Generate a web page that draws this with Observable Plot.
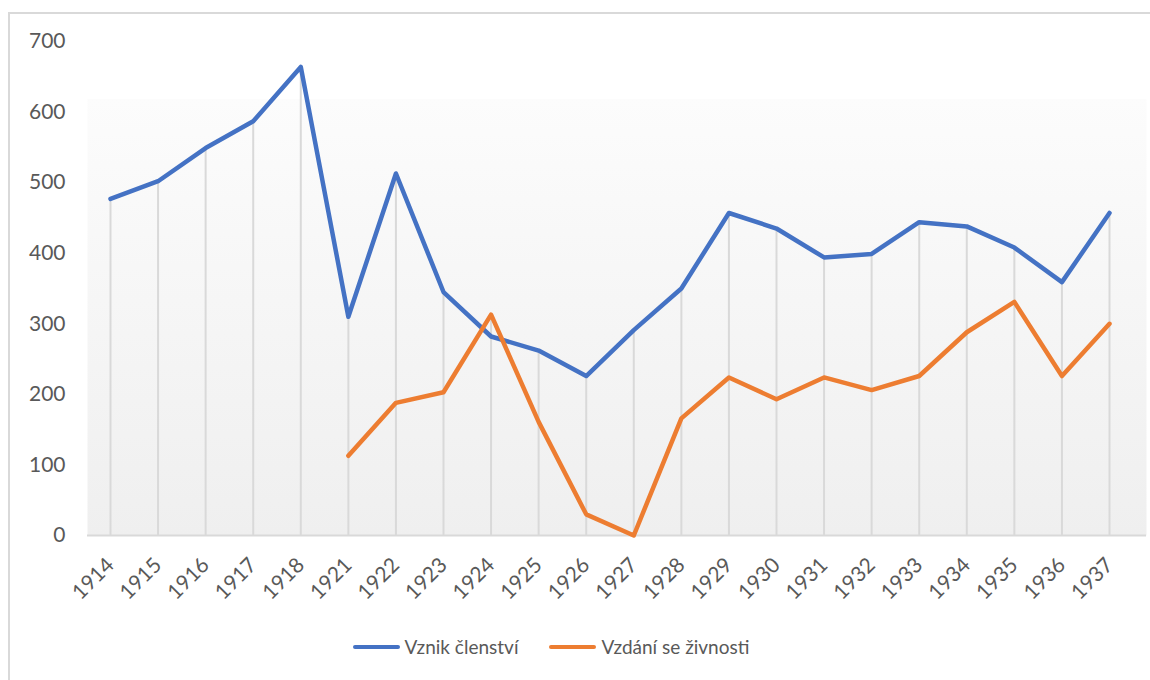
<!DOCTYPE html>
<html>
<head>
<meta charset="utf-8">
<script src="https://cdn.jsdelivr.net/npm/d3@7"></script>
<script src="https://cdn.jsdelivr.net/npm/@observablehq/plot@0.6"></script>
<style>
  html, body { margin: 0; padding: 0; background: #fff; overflow: hidden; }
  body { width: 1150px; height: 680px; position: relative; font-family: Lato, "Open Sans", sans-serif; }
  #frame { position: absolute; left: 8px; top: 12px; width: 1300px; height: 800px; border: 2px solid #d9d9d9; box-sizing: border-box; }
  #chart { position: absolute; left: 0; top: 0; }
  #legend { position: absolute; left: 0; top: 635px; width: 1102px; display: flex; justify-content: center; gap: 31px; font-size: 19px; color: #595959; }
  .item { display: flex; align-items: center; gap: 5px; }
  .sw { width: 47px; height: 4px; border-radius: 2px; }
</style>
</head>
<body>
<div id="frame"></div>
<div id="chart"></div>
<div id="legend"></div>
<script>
const years = ["1914","1915","1916","1917","1918","1921","1922","1923","1924","1925","1926","1927","1928","1929","1930","1931","1932","1933","1934","1935","1936","1937"];
const vznikClenstvi = [477, 502, 549, 587, 664, 310, 513, 345, 282, 262, 226, 291, 350, 457, 435, 394, 399, 444, 438, 408, 359, 457];
const vzdaniZivnosti = [null, null, null, null, null, 113, 188, 203, 313, 161, 30, 0, 166, 224, 193, 224, 206, 226, 288, 331, 226, 300];
const seriesNames = ["Vznik členství", "Vzdání se živnosti"];
const colors = ["#4472C4", "#ED7D31"];
const yTicks = [0, 100, 200, 300, 400, 500, 600, 700];

const rows = [];
years.forEach((yr, i) => {
  rows.push({year: yr, value: vznikClenstvi[i], series: seriesNames[0]});
  if (vzdaniZivnosti[i] != null) rows.push({year: yr, value: vzdaniZivnosti[i], series: seriesNames[1]});
});
const drops = years.map((yr, i) => ({year: yr, top: Math.max(vznikClenstvi[i], vzdaniZivnosti[i] ?? 0)}));

const W = 1150, H = 620, mt = 41, mb = 85;
const gradTop = ((98 - mt) / (H - mt - mb) * 100).toFixed(2);

const chart = Plot.plot({
  width: W,
  height: H,
  marginTop: mt,
  marginBottom: mb,
  marginLeft: 87,
  marginRight: 4,
  style: {fontFamily: "Lato, 'Open Sans', sans-serif", fontSize: "21px", color: "#595959", background: "transparent", overflow: "visible"},
  x: {type: "point", domain: years, padding: 0, round: false, insetLeft: 23, insetRight: 37, label: null},
  y: {domain: [0, 700], label: null},
  marks: [
    () => {
      const svg = d3.create("svg:defs");
      const g = svg.append("linearGradient").attr("id", "bgGrad").attr("x1", 0).attr("y1", 0).attr("x2", 0).attr("y2", 1);
      g.append("stop").attr("offset", "0%").attr("stop-color", "#ffffff").attr("stop-opacity", 0);
      g.append("stop").attr("offset", gradTop + "%").attr("stop-color", "#ffffff").attr("stop-opacity", 0);
      g.append("stop").attr("offset", gradTop + "%").attr("stop-color", "#fcfcfc");
      g.append("stop").attr("offset", "100%").attr("stop-color", "#efefef");
      return svg.node();
    },
    Plot.frame({fill: "url(#bgGrad)", stroke: null}),
    Plot.ruleX(drops, {x: "year", y1: 0, y2: "top", stroke: "#d9d9d9", strokeWidth: 2}),
    Plot.ruleY([0], {stroke: "#d9d9d9", strokeWidth: 2}),
    Plot.axisY({ticks: yTicks, tickSize: 0, tickPadding: 22, fontSize: 21, fill: "#595959"}),
    Plot.axisX({tickSize: 0, tickRotate: -45, tickPadding: 26, fontSize: 21, fill: "#595959"}),
    Plot.line(rows, {x: "year", y: "value", z: "series", stroke: "series", strokeWidth: 4.5, strokeLinejoin: "round", strokeLinecap: "round"})
  ],
  color: {domain: seriesNames, range: colors}
});
document.getElementById("chart").appendChild(chart);

const legend = document.getElementById("legend");
seriesNames.forEach((name, i) => {
  const it = document.createElement("div");
  it.className = "item";
  const sw = document.createElement("div");
  sw.className = "sw";
  sw.style.background = colors[i];
  const t = document.createElement("span");
  t.textContent = name;
  it.appendChild(sw); it.appendChild(t);
  legend.appendChild(it);
});
</script>
</body>
</html>
